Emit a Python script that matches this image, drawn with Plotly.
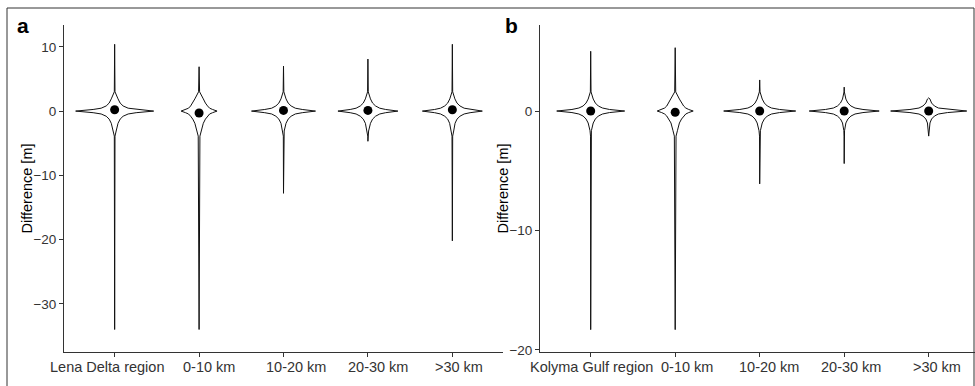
import plotly.graph_objects as go

# ---------------- data ----------------
cats_a = ["Lena Delta region", "0-10 km", "10-20 km", "20-30 km", ">30 km"]
cats_b = ["Kolyma Gulf region", "0-10 km", "10-20 km", "20-30 km", ">30 km"]

max_a = [10.4, 6.9, 7.0, 8.1, 10.4]
min_a = [-34.0, -34.0, -12.8, -4.7, -20.2]
mean_a = [0.2, -0.3, 0.1, 0.1, 0.2]

max_b = [5.0, 5.3, 2.6, 2.0, 1.1]
min_b = [-18.3, -18.3, -6.1, -4.4, -2.1]
mean_b = [0.0, -0.1, 0.0, 0.0, 0.0]

# density outline: y-levels and half-widths (x units)
levels_a = [-3.9, -3.1, -1.9, -1.25, -0.8, -0.45, -0.25, 0, 0.25, 0.45, 0.8, 1.25, 1.9, 3.0]
widths_a = [
    [0.004, 0.018, 0.040, 0.065, 0.100, 0.160, 0.255, 0.462, 0.255, 0.160, 0.100, 0.065, 0.040, 0.004],
    [0.010, 0.026, 0.050, 0.075, 0.100, 0.125, 0.160, 0.213, 0.160, 0.125, 0.100, 0.075, 0.050, 0.006],
    [0.002, 0.008, 0.030, 0.055, 0.090, 0.140, 0.222, 0.379, 0.222, 0.140, 0.090, 0.055, 0.030, 0.004],
    [0.002, 0.008, 0.030, 0.055, 0.090, 0.140, 0.210, 0.355, 0.210, 0.140, 0.090, 0.055, 0.030, 0.004],
    [0.004, 0.016, 0.032, 0.055, 0.090, 0.140, 0.210, 0.355, 0.210, 0.140, 0.090, 0.055, 0.030, 0.004],
]
levels_b = [-2.1, -1.65, -1.0, -0.67, -0.42, -0.25, -0.13, 0, 0.13, 0.25, 0.42, 0.67, 1.0, 1.6]
widths_b = [
    [0.002, 0.008, 0.030, 0.055, 0.090, 0.140, 0.222, 0.402, 0.222, 0.140, 0.090, 0.055, 0.030, 0.004],
    [0.010, 0.026, 0.050, 0.075, 0.100, 0.125, 0.160, 0.213, 0.160, 0.125, 0.100, 0.075, 0.050, 0.006],
    [0.002, 0.008, 0.030, 0.055, 0.090, 0.140, 0.235, 0.426, 0.235, 0.140, 0.090, 0.055, 0.030, 0.004],
    [0.002, 0.004, 0.020, 0.044, 0.080, 0.128, 0.222, 0.414, 0.222, 0.128, 0.080, 0.044, 0.020, 0.002],
    [0.002, 0.004, 0.015, 0.034, 0.068, 0.115, 0.222, 0.450, 0.222, 0.115, 0.068, 0.034, 0.015, 0.002],
]

y_ticks_a = [-30, -20, -10, 0, 10]
y_ticks_b = [-20, -10, 0]

# ---------------- figure ----------------
W, H = 975, 386
fig = go.Figure()


def add_panel(cats, mins, maxs, means, levels, widths, xa, ya):
    for i in range(len(cats)):
        c = i + 1
        pts = [(lv, w) for lv, w in zip(levels, widths[i]) if mins[i] < lv < maxs[i]]
        ys = [mins[i]] + [p[0] for p in pts] + [maxs[i]]
        ws = [0.0] + [p[1] for p in pts] + [0.0]
        xs_r = [c + w for w in ws]
        xs_l = [c - w for w in ws][::-1]
        fig.add_trace(go.Scatter(
            x=xs_r + xs_l, y=ys + ys[::-1], mode="lines", fill="toself",
            fillcolor="white", line=dict(color="#111", width=1),
            xaxis=xa, yaxis=ya, showlegend=False, hoverinfo="skip"))
    fig.add_trace(go.Scatter(
        x=list(range(1, len(cats) + 1)), y=means, mode="markers",
        marker=dict(color="black", size=9), xaxis=xa, yaxis=ya,
        showlegend=False))


add_panel(cats_a, min_a, max_a, mean_a, levels_a, widths_a, "x", "y")
add_panel(cats_b, min_b, max_b, mean_b, levels_b, widths_b, "x2", "y2")

font_fam = "Liberation Sans, Arial, sans-serif"
ydom = [1 - 352 / H, 1 - 25 / H]
axis_common = dict(showline=True, linecolor="#333", linewidth=1, ticks="outside",
                   ticklen=4, tickcolor="#333", showgrid=False, zeroline=False,
                   automargin=False, tickangle=0)
yfont = dict(family=font_fam, size=13.5, color="#333")
xfont = dict(family=font_fam, size=14.5, color="#333")

fig.update_layout(
    width=W, height=H, margin=dict(l=0, r=0, t=0, b=0, autoexpand=False),
    paper_bgcolor="white", plot_bgcolor="white",
    font=dict(family=font_fam, size=13, color="black"),
    xaxis=dict(domain=[64 / W, 503 / W], range=[0.4, 5.6], tickvals=[1, 2, 3, 4, 5],
               showticklabels=False, anchor="y", **axis_common),
    yaxis=dict(domain=ydom, range=[-37.5, 13.4], tickvals=y_ticks_a,
               anchor="x", tickfont=yfont, **axis_common),
    xaxis2=dict(domain=[540 / W, 1.0], range=[0.4, 0.4 + 435 / 84.5], tickvals=[1, 2, 3, 4, 5],
                showticklabels=False, anchor="y2", **axis_common),
    yaxis2=dict(domain=ydom, range=[-20.17, 7.2], tickvals=y_ticks_b,
                anchor="x2", tickfont=yfont, **axis_common),
)

# category labels (placed as in the reference, slightly off-centre)
label_shift_a = [-8, 10, 12, 10, 7]
label_shift_b = [1, 12, 9, 7, 8]
for cats, shifts, xr in [(cats_a, label_shift_a, "x"), (cats_b, label_shift_b, "x2")]:
    for i, (lab, sh) in enumerate(zip(cats, shifts)):
        fig.add_annotation(x=i + 1, y=1 - 367 / H, xref=xr, yref="paper", text=lab,
                           showarrow=False, xanchor="center", yanchor="middle", xshift=sh,
                           font=xfont)

ymid = (ydom[0] + ydom[1]) / 2
for xpx, txt in [(27, "Difference [m]"), (503, "Difference [m]")]:
    fig.add_annotation(x=xpx / W, y=ymid, xref="paper", yref="paper", text=txt,
                       textangle=-90, showarrow=False, xanchor="center", yanchor="middle",
                       font=dict(family=font_fam, size=14.5, color="black"))

for xpx, txt in [(15, "a"), (503, "b")]:
    fig.add_annotation(x=xpx / W, y=1 - 12 / H, xref="paper", yref="paper",
                       text="<b>%s</b>" % txt, showarrow=False, xanchor="left", yanchor="top",
                       font=dict(family=font_fam, size=21, color="black"))

# outer frame
fig.add_shape(type="rect", xref="paper", yref="paper", x0=7 / W, x1=974 / W,
              y0=-0.05, y1=1 - 8 / H, line=dict(color="#333", width=1), fillcolor="rgba(0,0,0,0)")

fig.write_html("out.html", config={"displayModeBar": False},
               post_script="document.body.style.margin='0';document.body.style.overflow='hidden';")
